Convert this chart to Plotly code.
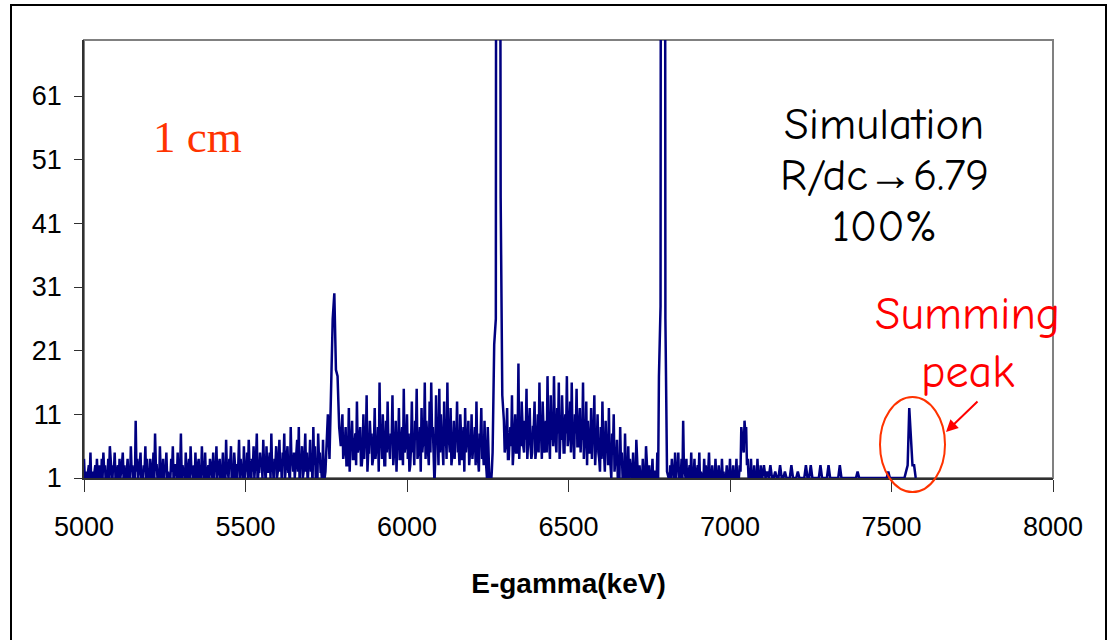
import plotly.graph_objects as go

# ---- data ----
# Noisy regions: upper readings on a 5 keV grid plus the lower readings
# between them (at +2.5 keV); peak regions on a 5 keV grid.

low_5000_5745_hi = [
    4, 2, 1, 3, 5, 2, 0, 3, 4, 1,
    2, 4, 5, 3, 1, 4, 6, 2, 3, 5,
    1, 3, 4, 2, 5, 3, 1, 4, 2, 6,
    3, 1, 10, 4, 2, 5, 1, 3, 6, 4,
    2, 4, 1, 5, 8, 3, 2, 6, 1, 4,
    3, 5, 2, 1, 4, 6, 3, 2, 5, 1,
    8, 3, 2, 5, 1, 4, 6, 2, 3, 5,
    1, 4, 3, 6, 2, 5, 1, 3, 4, 2,
    5, 3, 6, 2, 4, 1, 5, 3, 7, 2,
    4, 6, 2, 5, 1, 3, 7, 4, 2, 6,
    3, 5, 7, 2, 4, 6, 3, 8, 2, 5,
    4, 7, 3, 6, 2, 5, 8, 3, 4, 6,
    2, 7, 4, 5, 8, 3, 6, 2, 9, 4,
    5, 3, 7, 9, 4, 6, 2, 8, 5, 3,
    7, 4, 9, 6, 3, 8, 5, 2, 7, 1,
]
low_5000_5745_lo = [
    1, 0, 2, 1, 0, 1, 2, 0, 1, 3,
    0, 1, 2, 0, 1, 1, 3, 0, 2, 1,
    2, 0, 1, 3, 1, 0, 2, 1, 0, 2,
    1, 0, 2, 1, 3, 0, 1, 2, 0, 1,
    0, 2, 1, 0, 3, 1, 0, 2, 1, 0,
    2, 1, 0, 1, 2, 0, 3, 1, 0, 2,
    1, 2, 0, 1, 3, 0, 2, 1, 0, 1,
    3, 0, 1, 2, 0, 1, 2, 0, 3, 1,
    0, 2, 1, 3, 0, 2, 1, 0, 2, 1,
    3, 0, 1, 2, 0, 3, 1, 2, 0, 1,
    2, 1, 3, 0, 2, 1, 4, 0, 2, 3,
    1, 3, 0, 2, 4, 1, 2, 0, 3, 1,
    4, 2, 0, 3, 1, 4, 2, 0, 3, 2,
    1, 4, 2, 0, 3, 1, 4, 2, 0, 3,
    2, 0, 3, 1, 0, 4, 2, 0, 1, 2,
]
peak_5775 = [6, 11, 4, 17, 26, 30, 18, 17, 9, 6]
mid_5800_6260_hi = [
    11, 5, 9, 3, 12, 7, 10, 4, 8, 13,
    6, 9, 3, 11, 7, 14, 5, 10, 8, 4,
    12, 6, 9, 16, 7, 11, 3, 10, 13, 6,
    8, 14, 5, 10, 7, 12, 4, 9, 15, 6,
    11, 8, 3, 13, 7, 10, 15, 5, 9, 12,
    7, 16, 10, 6, 13, 16, 9, 0, 14, 8,
    15, 11, 6, 13, 9, 16, 7, 12, 5, 10,
    8, 13, 6, 11, 4, 9, 12, 7, 10, 5,
    11, 6, 9, 13, 4, 8, 12, 6, 10, 3,
    9, 1, 0,
]
mid_5800_6260_lo = [
    4, 6, 3, 5, 2, 7, 4, 6, 3, 5,
    7, 3, 5, 4, 6, 2, 5, 7, 3, 6,
    4, 5, 2, 6, 4, 7, 3, 5, 6, 4,
    7, 3, 5, 2, 6, 4, 7, 3, 5, 6,
    4, 2, 6, 5, 3, 7, 4, 6, 2, 5,
    6, 4, 7, 3, 5, 8, 6, 4, 7, 3,
    5, 7, 3, 6, 4, 7, 5, 3, 6, 4,
    7, 5, 3, 6, 4, 2, 5, 7, 3, 5,
    4, 6, 3, 5, 2, 7, 4, 3, 5, 1,
    3, 0, 2,
]
peak_6280 = [5, 22, 26, 400, 400, 45, 14]
mid_6300_6775_hi = [
    10, 6, 12, 4, 9, 14, 7, 11, 5, 19,
    8, 13, 6, 10, 15, 7, 12, 4, 9, 13,
    6, 11, 16, 8, 13, 5, 10, 17, 7, 14,
    9, 17, 6, 12, 16, 8, 14, 5, 11, 17,
    8, 13, 16, 7, 11, 15, 6, 12, 9, 16,
    7, 13, 10, 5, 12, 8, 14, 6, 11, 4,
    9, 13, 5, 10, 7, 12, 3, 8, 11, 4,
    7, 2, 9, 5, 3, 8, 1, 6, 4, 0,
    5, 2, 7, 1, 3, 0, 4, 2, 6, 1,
    3, 0, 4, 1, 2, 5,
]
mid_6300_6775_lo = [
    5, 8, 4, 7, 6, 3, 8, 5, 7, 4,
    6, 9, 5, 7, 4, 8, 6, 5, 9, 4,
    7, 5, 8, 4, 9, 6, 5, 8, 4, 7,
    6, 9, 5, 8, 4, 7, 10, 5, 8, 6,
    9, 5, 7, 4, 8, 6, 9, 5, 7, 4,
    6, 3, 7, 5, 4, 8, 3, 6, 5, 2,
    4, 6, 2, 5, 3, 4, 1, 5, 2, 3,
    1, 0, 3, 1, 0, 2, 0, 1, 2, 0,
    1, 0, 2, 0, 1, 0, 1, 0, 2, 0,
    0, 1, 0, 2, 0, 1,
]
peak_6795 = [17, 28, 400, 400, 26, 2]
low_6810_7095_hi = [
    1, 3, 4, 2, 5, 3, 5, 2, 4, 10,
    2, 4, 1, 3, 5, 2, 4, 1, 3, 5,
    2, 1, 4, 3, 1, 5, 2, 3, 1, 4,
    2, 3, 1, 4, 2, 1, 3, 2, 4, 1,
    3, 2, 4, 1, 3, 9, 6, 10, 9, 4,
    2, 4, 1, 3, 2, 4, 1, 3,
]
low_6810_7095_lo = [
    0, 1, 2, 0, 1, 2, 0, 1, 0, 2,
    1, 0, 2, 1, 0, 1, 0, 2, 1, 0,
    1, 0, 1, 0, 2, 1, 0, 1, 0, 1,
    0, 1, 0, 1, 0, 1, 0, 1, 0, 1,
    0, 1, 0, 1, 2, 7, 5, 8, 3, 1,
    0, 1, 0, 1, 0, 1, 0, 1,
]
tail_7100_7575 = [
    1, 3, 1, 2, 1, 3, 1, 1, 2, 1,
    1, 3, 1, 1, 2, 1, 1, 1, 3, 1,
    1, 1, 2, 1, 1, 1, 1, 3, 1, 1,
    3, 1, 1, 1, 1, 1, 3, 1, 1, 1,
    1, 3, 1, 1, 1, 1, 1, 1, 3, 1,
    1, 1, 1, 1, 1, 1, 1, 1, 1, 2,
    1, 1, 1, 1, 1, 1, 1, 1, 1, 1,
    1, 1, 1, 1, 1, 1, 1, 1, 2, 1,
    1, 1, 1, 1, 1, 1, 1, 1, 1, 2,
    3, 12, 7, 3, 3, 1,
]

x_ticks = [5000, 5500, 6000, 6500, 7000, 7500, 8000]
y_ticks = [1, 11, 21, 31, 41, 51, 61]


def interleave(hi, lo):
    out = []
    for a, b in zip(hi, lo):
        out += [a, b]
    return out


# (start keV, step keV, counts)
segments = [
    (5000, 2.5, interleave(low_5000_5745_hi, low_5000_5745_lo)),
    (5750, 5.0, peak_5775),
    (5800, 2.5, interleave(mid_5800_6260_hi, mid_5800_6260_lo)),
    (6265, 5.0, peak_6280),
    (6300, 2.5, interleave(mid_6300_6775_hi, mid_6300_6775_lo)),
    (6780, 5.0, peak_6795),
    (6810, 2.5, interleave(low_6810_7095_hi, low_6810_7095_lo)),
    (7100, 5.0, tail_7100_7575),
]
energy, counts = [], []
for start, step, vals in segments:
    energy += [start + step * i for i in range(len(vals))]
    counts += vals

# ---- layout helpers (pixel -> paper) ----
W, H = 1110, 640
L, R, T, B = 84, 1053, 40, 478


def px(x):
    return (x - L) / (R - L)


def py(y):
    return (B - y) / (B - T)


fig = go.Figure()
fig.add_trace(go.Scatter(x=energy, y=counts, mode="lines",
                         line=dict(color="#000080", width=2.5),
                         showlegend=False, hoverinfo="skip"))

axis_font = dict(family="Liberation Sans, Arial, sans-serif", size=27, color="black")

fig.update_layout(
    width=W, height=H,
    margin=dict(l=L, r=W - R, t=T, b=H - B, pad=0),
    paper_bgcolor="white", plot_bgcolor="white",
    xaxis=dict(range=[5000, 8000], tickvals=x_ticks, ticktext=[str(v) for v in x_ticks],
               showgrid=False, zeroline=False, showline=True, linecolor="#303030",
               linewidth=1.5, ticks="outside", ticklen=12, tickcolor="#303030",
               tickfont=axis_font, ticklabelstandoff=12,
               title=dict(text="<b>E-gamma(keV)</b>", font=dict(family="Liberation Sans, Arial, sans-serif",
                                                             size=28, color="black"), standoff=32)),
    yaxis=dict(range=[1, 69.8], tickvals=y_ticks, ticktext=[str(v) for v in y_ticks],
               showgrid=False, zeroline=False, showline=True, linecolor="#303030",
               linewidth=1.5, ticks="outside", ticklen=8, tickcolor="#303030",
               tickfont=axis_font, ticklabelstandoff=7),
)

shapes = [
    dict(type="rect", xref="paper", yref="paper", x0=0, y0=0, x1=1, y1=1,
         line=dict(color="#808080", width=2), layer="below"),
    dict(type="rect", xref="paper", yref="paper", x0=px(11), x1=px(1106),
         y0=py(648), y1=py(5), line=dict(color="black", width=2), layer="below"),
    dict(type="circle", xref="paper", yref="paper", x0=px(880), x1=px(945),
         y0=py(492), y1=py(397), line=dict(color="#ff3300", width=2)),
]
fig.update_layout(shapes=shapes)

sim_font = dict(family="Comic Sans MS, Comic Neue, Open Sans, sans-serif", size=45, color="black")
red_font = dict(family="Comic Sans MS, Comic Neue, Open Sans, sans-serif", size=46, color="#ff0000")

ann = [
    dict(text="Simulation", x=px(884), y=py(124), font=sim_font),
    dict(text="R/dc\u21926.79", x=px(884), y=py(175), font=sim_font),
    dict(text="100%", x=px(884), y=py(226), font=sim_font),
    dict(text="Summing", x=px(967), y=py(314), font=red_font),
    dict(text="peak", x=px(967), y=py(372), font=red_font),
    dict(text="1 cm", x=px(197), y=py(137),
         font=dict(family="Liberation Serif, Times New Roman, serif", size=45, color="#ff3300")),
]
for a in ann:
    a.update(xref="paper", yref="paper", showarrow=False, xanchor="center", yanchor="middle")

ann.append(dict(xref="paper", yref="paper", x=px(946), y=py(432), text="",
                showarrow=True, ax=33, ay=-32, arrowhead=2, arrowsize=1.2,
                arrowwidth=2, arrowcolor="#ff0000"))
fig.update_layout(annotations=ann)

fig.write_html("out.html")
